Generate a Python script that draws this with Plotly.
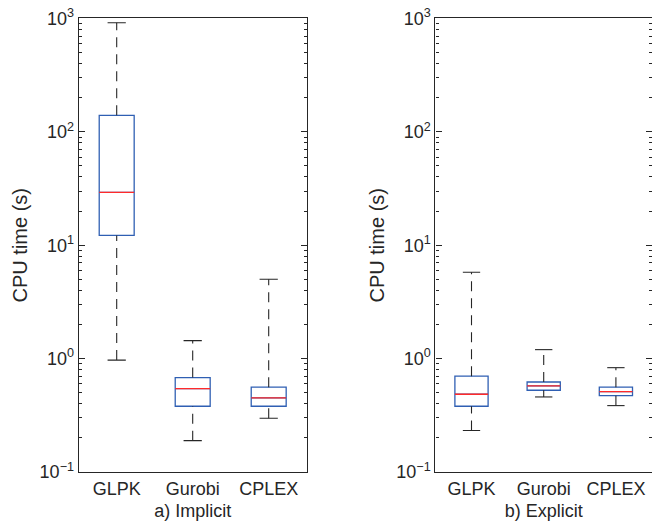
import plotly.graph_objects as go

solvers = ["GLPK", "Gurobi", "CPLEX"]
positions = [1, 2, 3]

# a) Implicit  (CPU time in seconds)
imp_lower = [0.97, 0.189, 0.298]
imp_q1 = [12.2, 0.380, 0.380]
imp_median = [29.3, 0.543, 0.450]
imp_q3 = [140.0, 0.68, 0.56]
imp_upper = [918.0, 1.44, 5.01]

# b) Explicit
exp_lower = [0.232, 0.459, 0.385]
exp_q1 = [0.380, 0.526, 0.471]
exp_median = [0.485, 0.574, 0.512]
exp_q3 = [0.70, 0.622, 0.56]
exp_upper = [5.78, 1.20, 0.832]

y_tickvals = [0.1, 1, 10, 100, 1000]
y_ticktext = ["10<sup>\u22121</sup>", "10<sup>0</sup>", "10<sup>1</sup>", "10<sup>2</sup>", "10<sup>3</sup>"]

BLUE = "#2f5fb3"
RED = "#ff2a2a"
DARK = "#262626"
FONT = "Liberation Sans, Arial, sans-serif"
BOX_W = 0.46
CAP_HALF = 0.12
FS = 18

fig = go.Figure()


def add_group(xa, ya, lower, q1, med, q3, upper):
    wx, wy, cx, cy, mx, my = [], [], [], [], [], []
    for p, lo, a, m, b, up in zip(positions, lower, q1, med, q3, upper):
        wx += [p, p, None, p, p, None]
        wy += [b, up, None, lo, a, None]
        cx += [p - CAP_HALF, p + CAP_HALF, None, p - CAP_HALF, p + CAP_HALF, None]
        cy += [up, up, None, lo, lo, None]
        mx += [p - BOX_W / 2, p + BOX_W / 2, None]
        my += [m, m, None]
    fig.add_trace(go.Scatter(x=wx, y=wy, mode="lines", xaxis=xa, yaxis=ya,
                             line=dict(color=DARK, width=1.1, dash="10px,7px"),
                             showlegend=False, hoverinfo="skip"))
    fig.add_trace(go.Scatter(x=cx, y=cy, mode="lines", xaxis=xa, yaxis=ya,
                             line=dict(color=DARK, width=1.1),
                             showlegend=False, hoverinfo="skip"))
    fig.add_trace(go.Box(x=positions, q1=q1, median=med, q3=q3,
                         lowerfence=q1, upperfence=q3, width=BOX_W,
                         line=dict(color=BLUE, width=1.3),
                         fillcolor="rgba(0,0,0,0)", boxpoints=False,
                         whiskerwidth=0, xaxis=xa, yaxis=ya, showlegend=False))
    fig.add_trace(go.Scatter(x=mx, y=my, mode="lines", xaxis=xa, yaxis=ya,
                             line=dict(color=RED, width=1.3),
                             showlegend=False, hoverinfo="skip"))


add_group("x", "y", imp_lower, imp_q1, imp_median, imp_q3, imp_upper)
add_group("x2", "y2", exp_lower, exp_q1, exp_median, exp_q3, exp_upper)

ydom = [0.1044, 0.9649]
xcommon = dict(range=[0.5, 3.5], tickvals=positions, ticktext=solvers, ticks="",
               showline=True, mirror=True, linecolor=DARK, linewidth=1.2,
               showgrid=False, zeroline=False, automargin=False,
               tickfont=dict(size=FS, color=DARK, family=FONT))
minor = dict(ticks="inside", ticklen=3, tickcolor=DARK, dtick="D1", showgrid=False)
ycommon = dict(type="log", range=[-1, 3], domain=ydom, tickvals=y_tickvals,
               ticktext=y_ticktext, ticks="inside", ticklen=6, tickcolor=DARK,
               showgrid=False, zeroline=False, automargin=False,
               minor=minor, linecolor=DARK, linewidth=1.2,
               tickfont=dict(size=FS, color=DARK, family=FONT))

fig.update_layout(
    width=652, height=527,
    margin=dict(l=0, r=0, t=0, b=0),
    template="none",
    paper_bgcolor="white", plot_bgcolor="white",
    font=dict(family=FONT, color=DARK, size=FS),
    xaxis=dict(domain=[0.1207, 0.4704], anchor="y",
               title=dict(text="a) Implicit", font=dict(size=FS, color=DARK, family=FONT), standoff=6),
               **xcommon),
    xaxis2=dict(domain=[0.6678, 1.0], anchor="y2",
                title=dict(text="b) Explicit", font=dict(size=FS, color=DARK, family=FONT), standoff=6),
                **xcommon),
    yaxis=dict(anchor="x", showline=True, mirror="ticks",
               title=dict(text="CPU time (s)", font=dict(size=20, color=DARK, family=FONT), standoff=6),
               **ycommon),
    yaxis2=dict(anchor="x2", showline=True, mirror=False,
                title=dict(text="CPU time (s)", font=dict(size=20, color=DARK, family=FONT), standoff=6),
                **ycommon),
    yaxis3=dict(anchor="x2", overlaying="y2", side="right", type="log", range=[-1, 3],
                tickvals=y_tickvals, showticklabels=False, ticks="inside", ticklen=6,
                tickcolor=DARK, showline=False, showgrid=False, zeroline=False,
                minor=minor, automargin=False),
)

# invisible marker so the right-side tick axis of panel b) is drawn
fig.add_trace(go.Scatter(x=[1], y=[1], xaxis="x2", yaxis="y3", mode="markers",
                         marker=dict(opacity=0), showlegend=False, hoverinfo="skip"))

fig.write_html("out.html")
